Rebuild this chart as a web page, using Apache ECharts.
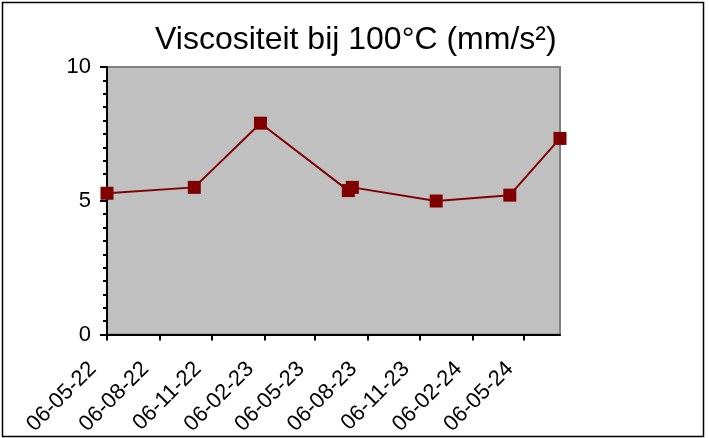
<!DOCTYPE html>
<html>
<head>
<meta charset="utf-8">
<script src="https://cdn.jsdelivr.net/npm/echarts@6/dist/echarts.min.js"></script>
<style>
  html, body { margin: 0; padding: 0; background: #fff; }
  #chart { width: 709px; height: 438px; }
</style>
</head>
<body>
<div id="chart"></div>
<script>
// Measurement dates (yyyy-mm-dd) and kinematic viscosity at 100 °C
const sampleDates = ['2022-05-06', '2022-10-06', '2023-01-30', '2023-07-03', '2023-07-10', '2023-12-04', '2024-04-11', '2024-07-08'];
const viscosity = [5.28, 5.50, 7.90, 5.38, 5.50, 4.99, 5.21, 7.33];

// Quarterly date ticks on the time axis and their labels (dd-mm-yy)
const tickDates = ['2022-05-06', '2022-08-06', '2022-11-06', '2023-02-06', '2023-05-06', '2023-08-06', '2023-11-06', '2024-02-06', '2024-05-06'];
const tickLabels = ['06-05-22', '06-08-22', '06-11-22', '06-02-23', '06-05-23', '06-08-23', '06-11-23', '06-02-24', '06-05-24'];

const yTicks = [0, 5, 10];

const toMs = s => { const [y, m, d] = s.split('-').map(Number); return Date.UTC(y, m - 1, d); };
const tickMs = tickDates.map(toMs);
const points = sampleDates.map((d, i) => [toMs(d), viscosity[i]]);

const FONT = '"Liberation Sans", Arial, sans-serif';

const chart = echarts.init(document.getElementById('chart'), null, { renderer: 'canvas' });
chart.setOption({
  animation: false,
  backgroundColor: '#ffffff',
  title: {
    text: 'Viscositeit bij 100°C (mm/s²)',
    left: 150,
    top: 19,
    textStyle: { fontFamily: FONT, fontSize: 32, fontWeight: 'normal', color: '#000' }
  },
  graphic: [{
    type: 'rect',
    silent: true,
    shape: { x: 2.5, y: 2.5, width: 701, height: 434 },
    style: { fill: 'none', stroke: '#000', lineWidth: 1.5 },
    z: 100
  }],
  grid: {
    left: 107, top: 67, right: 149, bottom: 103.5,
    outerBoundsMode: 'none',
    containLabel: false,
    show: true,
    backgroundColor: '#C0C0C0',
    borderColor: '#808080',
    borderWidth: 2
  },
  xAxis: {
    type: 'value',
    min: tickMs[0],
    max: toMs(sampleDates[sampleDates.length - 1]),
    splitLine: { show: false },
    axisLine: { show: true, onZero: false, lineStyle: { color: '#000', width: 2 } },
    axisTick: { show: true, inside: false, length: 6, customValues: tickMs, lineStyle: { color: '#000', width: 2 } },
    axisLabel: {
      customValues: tickMs,
      rotate: 45,
      margin: 17,
      padding: [0, 20, 0, 0],
      fontFamily: FONT,
      fontSize: 22,
      color: '#000',
      formatter: v => { const i = tickMs.indexOf(v); return i >= 0 ? tickLabels[i] : ''; }
    }
  },
  yAxis: {
    type: 'value',
    min: yTicks[0],
    max: yTicks[yTicks.length - 1],
    interval: 5,
    splitLine: { show: false },
    axisLine: { show: true, onZero: false, lineStyle: { color: '#000', width: 2 } },
    axisTick: { show: true, inside: false, length: 7, lineStyle: { color: '#000', width: 2 } },
    minorTick: { show: true, splitNumber: 10, length: 4, lineStyle: { color: '#000', width: 2 } },
    axisLabel: { margin: 16, fontFamily: FONT, fontSize: 22, color: '#000' }
  },
  series: [{
    type: 'line',
    data: points,
    clip: false,
    symbol: 'rect',
    symbolSize: 13,
    itemStyle: { color: '#800000' },
    lineStyle: { color: '#800000', width: 2 }
  }]
});
</script>
</body>
</html>
